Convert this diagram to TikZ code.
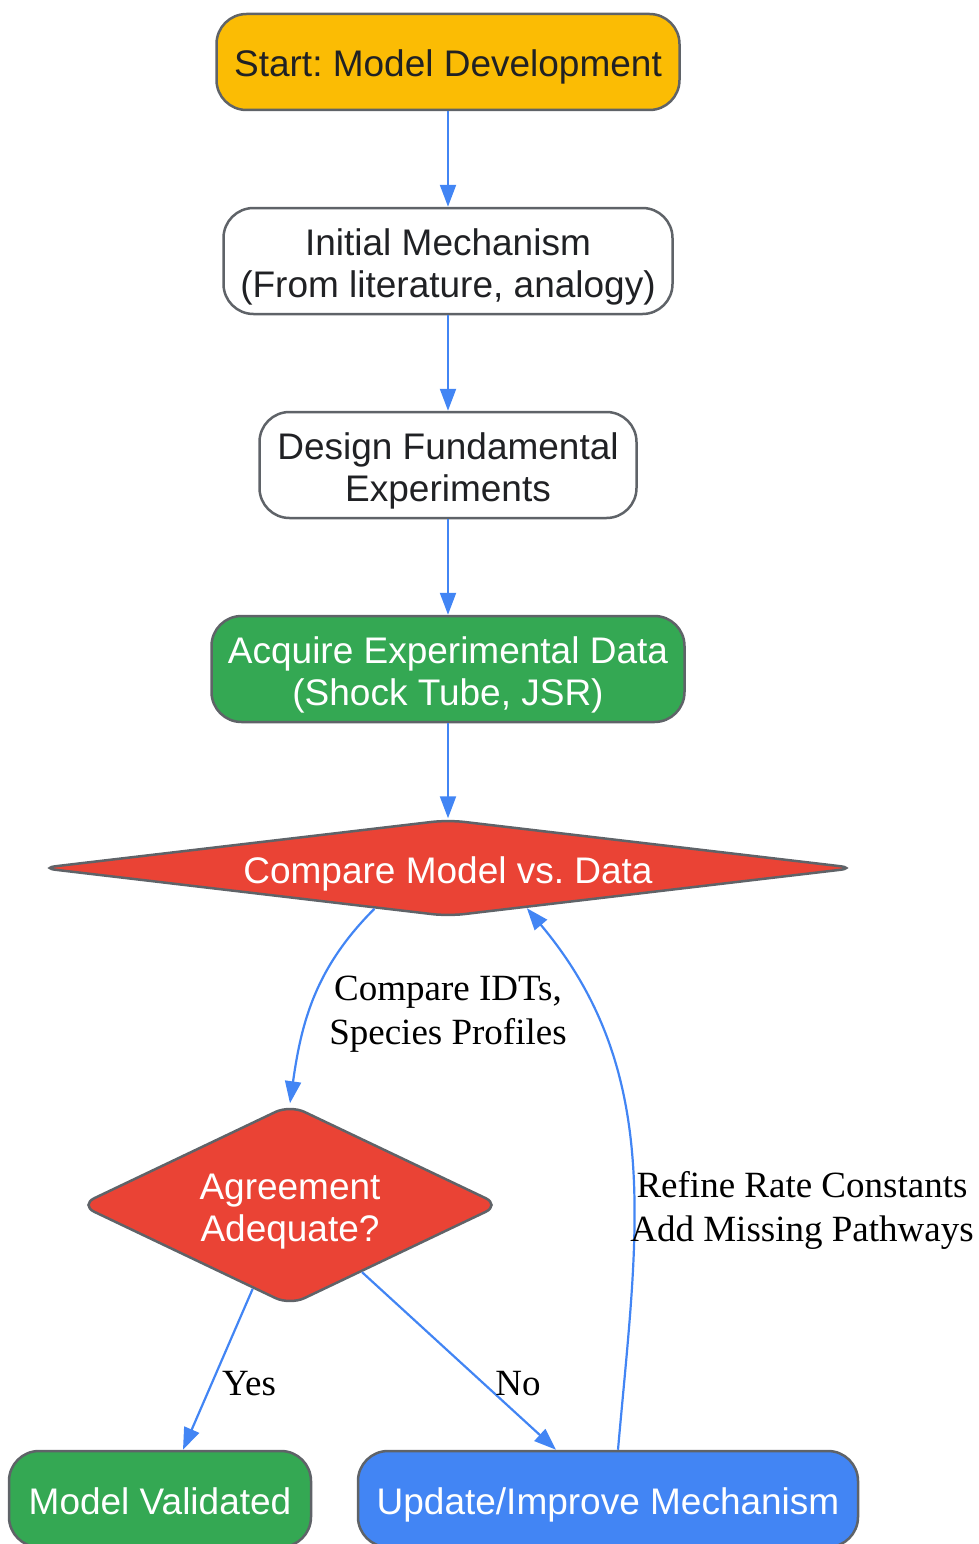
\documentclass[tikz,border=0pt]{standalone}
\usepackage{fontspec}
\setmainfont{Liberation Serif}
\setsansfont{Liberation Sans}
\usetikzlibrary{shapes.geometric,arrows.meta}
\frenchspacing

\definecolor{gyellow}{HTML}{FBBC04}
\definecolor{ggreen}{HTML}{34A853}
\definecolor{gred}{HTML}{EA4335}
\definecolor{gblue}{HTML}{4285F4}
\definecolor{gborder}{HTML}{5F6368}
\definecolor{gtext}{HTML}{202124}

\begin{document}
\begin{tikzpicture}[x=1pt,y=1pt,
    txt/.style={align=center, inner sep=0pt, font=\sffamily\fontsize{37}{42}\selectfont,
      execute at begin node={\rule{0pt}{38pt}}, execute at end node={\rule[-8pt]{0pt}{8pt}}},
    twolines/.style={execute at begin node={\rule{0pt}{80pt}}},
    box/.style={txt, draw=gborder, line width=2.5pt, rounded corners=30pt, text=gtext},
    dec/.style={txt, diamond, draw=gborder, line width=2.5pt, rounded corners=16pt, fill=gred, text=white},
    flow/.style={draw=gblue, line width=2.2pt, -{Triangle[length=22pt,width=16pt]}},
    lbl/.style={align=center, inner sep=0pt, font=\fontsize{37}{44}\selectfont}]
    \useasboundingbox (0,0) rectangle (979,-1544);

    % main chain
    \node[box, fill=gyellow, minimum width=463pt, minimum height=96pt] (start) at (448,-62) {Start: Model Development};
    \node[box, twolines, fill=white, minimum width=449pt, minimum height=106pt] (init) at (448,-261) {Initial Mechanism\\(From literature, analogy)};
    \node[box, twolines, fill=white, minimum width=377pt, minimum height=106pt] (design) at (448,-465) {Design Fundamental\\Experiments};
    \node[box, twolines, fill=ggreen, text=white, minimum width=473pt, minimum height=106pt] (acq) at (448,-669) {Acquire Experimental Data\\(Shock Tube, JSR)};

    % decisions
    \node[dec, shape aspect=8.6, minimum width=816pt, minimum height=97pt] (cmp) at (448,-868) {Compare Model vs. Data};
    \node[dec, twolines, shape aspect=2.1, minimum width=421pt, minimum height=201pt] (agr) at (290,-1205) {Agreement\\Adequate?};

    % outcomes
    \node[box, fill=ggreen, text=white, minimum width=302pt, minimum height=96pt] (val) at (160,-1499) {Model Validated};
    \node[box, fill=gblue, text=white, minimum width=500pt, minimum height=96pt] (upd) at (608,-1499) {Update/Improve Mechanism};

    % arrows
    \draw[flow] (start) -- (init);
    \draw[flow] (init) -- (design);
    \draw[flow] (design) -- (acq);
    \draw[flow] (acq) -- (cmp);
    \draw[flow] (cmp.209) to[out=225,in=82] (agr.north);
    \draw[flow] (agr.246) -- ([xshift=23pt]val.north);
    \draw[flow] (agr.-43) -- ([xshift=-52pt]upd.north);
    \draw[flow] ([xshift=10pt]upd.north) to[out=85,in=-50] (cmp.-27);

    % labels
    \node[lbl] (lcmp) at (448,-1014) {Compare IDTs,\\Species Profiles};
    \node[lbl] (lfb) at (802,-1210) {Refine Rate Constants\\Add Missing Pathways};
    \node[lbl] (lyes) at (249,-1384) {Yes};
    \node[lbl] (lno) at (518,-1384) {No};
\end{tikzpicture}
\end{document}
